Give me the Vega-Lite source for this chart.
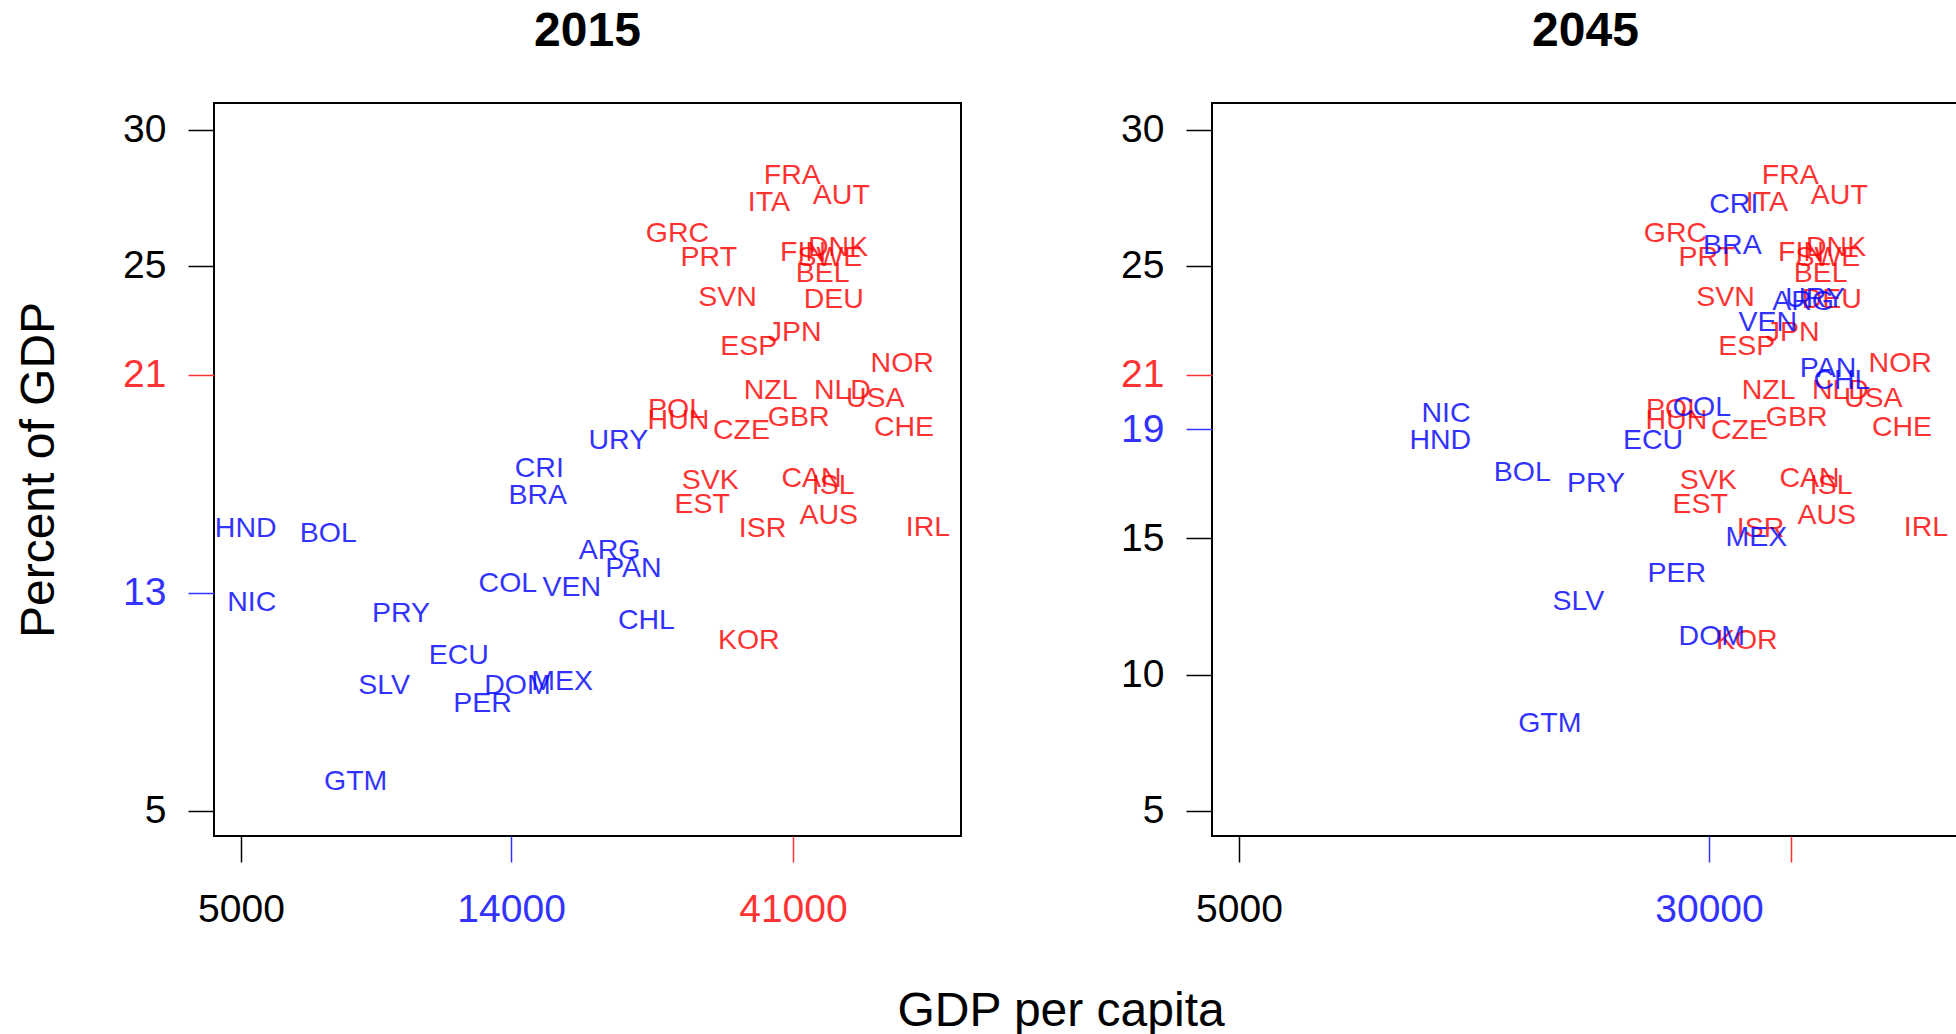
{
  "$schema": "https://vega.github.io/schema/vega-lite/v6.json",
  "background": "white",
  "padding": {"left": 14, "top": 7, "right": 0, "bottom": 0},
  "config": {
    "font": "Liberation Sans",
    "view": {"stroke": "black", "strokeWidth": 2},
    "axis": {"grid": false, "domain": false, "labelFont": "Liberation Sans", "labelFontSize": 39, "tickSize": 26, "tickWidth": 1.5, "labelOverlap": false, "labelFlush": false, "titleFont": "Liberation Sans", "titleFontSize": 48, "titleFontWeight": "normal", "titleColor": "black"},
    "axisX": {"labelPadding": 28},
    "axisY": {"labelPadding": 22},
    "title": {"font": "Liberation Sans", "fontSize": 48, "fontWeight": "bold", "color": "black"}
  },
  "datasets": {
    "d": [
      {"c": "FRA", "g": "OECD", "year": 2015, "gdp": 40900, "pct": 28.34},
      {"c": "ITA", "g": "OECD", "year": 2015, "gdp": 37400, "pct": 27.35},
      {"c": "AUT", "g": "OECD", "year": 2015, "gdp": 49300, "pct": 27.62},
      {"c": "GRC", "g": "OECD", "year": 2015, "gdp": 26400, "pct": 26.22},
      {"c": "PRT", "g": "OECD", "year": 2015, "gdp": 29750, "pct": 25.33},
      {"c": "FIN", "g": "OECD", "year": 2015, "gdp": 42600, "pct": 25.52},
      {"c": "DNK", "g": "OECD", "year": 2015, "gdp": 48700, "pct": 25.70},
      {"c": "SWE", "g": "OECD", "year": 2015, "gdp": 47200, "pct": 25.33},
      {"c": "BEL", "g": "OECD", "year": 2015, "gdp": 45900, "pct": 24.73},
      {"c": "SVN", "g": "OECD", "year": 2015, "gdp": 31950, "pct": 23.85},
      {"c": "DEU", "g": "OECD", "year": 2015, "gdp": 47900, "pct": 23.77},
      {"c": "JPN", "g": "OECD", "year": 2015, "gdp": 41250, "pct": 22.58},
      {"c": "ESP", "g": "OECD", "year": 2015, "gdp": 34650, "pct": 22.08},
      {"c": "NOR", "g": "OECD", "year": 2015, "gdp": 62200, "pct": 21.45},
      {"c": "NZL", "g": "OECD", "year": 2015, "gdp": 37650, "pct": 20.46},
      {"c": "NLD", "g": "OECD", "year": 2015, "gdp": 49500, "pct": 20.46},
      {"c": "USA", "g": "OECD", "year": 2015, "gdp": 56100, "pct": 20.16},
      {"c": "POL", "g": "OECD", "year": 2015, "gdp": 26300, "pct": 19.76},
      {"c": "HUN", "g": "OECD", "year": 2015, "gdp": 26500, "pct": 19.34},
      {"c": "GBR", "g": "OECD", "year": 2015, "gdp": 41900, "pct": 19.46},
      {"c": "CZE", "g": "OECD", "year": 2015, "gdp": 33700, "pct": 18.97},
      {"c": "CHE", "g": "OECD", "year": 2015, "gdp": 62600, "pct": 19.08},
      {"c": "SVK", "g": "OECD", "year": 2015, "gdp": 29900, "pct": 17.14},
      {"c": "CAN", "g": "OECD", "year": 2015, "gdp": 44000, "pct": 17.23},
      {"c": "ISL", "g": "OECD", "year": 2015, "gdp": 47800, "pct": 16.97},
      {"c": "EST", "g": "OECD", "year": 2015, "gdp": 29000, "pct": 16.26},
      {"c": "AUS", "g": "OECD", "year": 2015, "gdp": 47000, "pct": 15.86},
      {"c": "ISR", "g": "OECD", "year": 2015, "gdp": 36500, "pct": 15.40},
      {"c": "IRL", "g": "OECD", "year": 2015, "gdp": 68600, "pct": 15.41},
      {"c": "KOR", "g": "OECD", "year": 2015, "gdp": 34650, "pct": 11.27},
      {"c": "URY", "g": "LatAm", "year": 2015, "gdp": 21070, "pct": 18.63},
      {"c": "CRI", "g": "LatAm", "year": 2015, "gdp": 15590, "pct": 17.60},
      {"c": "BRA", "g": "LatAm", "year": 2015, "gdp": 15500, "pct": 16.60},
      {"c": "HND", "g": "LatAm", "year": 2015, "gdp": 5090, "pct": 15.39},
      {"c": "BOL", "g": "LatAm", "year": 2015, "gdp": 6975, "pct": 15.21},
      {"c": "ARG", "g": "LatAm", "year": 2015, "gdp": 20375, "pct": 14.56},
      {"c": "PAN", "g": "LatAm", "year": 2015, "gdp": 22320, "pct": 13.93},
      {"c": "COL", "g": "LatAm", "year": 2015, "gdp": 13830, "pct": 13.38},
      {"c": "VEN", "g": "LatAm", "year": 2015, "gdp": 17640, "pct": 13.20},
      {"c": "NIC", "g": "LatAm", "year": 2015, "gdp": 5210, "pct": 12.65},
      {"c": "PRY", "g": "LatAm", "year": 2015, "gdp": 9200, "pct": 12.28},
      {"c": "ECU", "g": "LatAm", "year": 2015, "gdp": 11470, "pct": 10.73},
      {"c": "SLV", "g": "LatAm", "year": 2015, "gdp": 8630, "pct": 9.61},
      {"c": "DOM", "g": "LatAm", "year": 2015, "gdp": 14340, "pct": 9.61},
      {"c": "MEX", "g": "LatAm", "year": 2015, "gdp": 17010, "pct": 9.78},
      {"c": "PER", "g": "LatAm", "year": 2015, "gdp": 12560, "pct": 8.96},
      {"c": "GTM", "g": "LatAm", "year": 2015, "gdp": 7740, "pct": 6.11},
      {"c": "CHL", "g": "LatAm", "year": 2015, "gdp": 23450, "pct": 12.02},
      {"c": "FRA", "g": "OECD", "year": 2045, "gdp": 40900, "pct": 28.34},
      {"c": "ITA", "g": "OECD", "year": 2045, "gdp": 37400, "pct": 27.35},
      {"c": "AUT", "g": "OECD", "year": 2045, "gdp": 49300, "pct": 27.62},
      {"c": "GRC", "g": "OECD", "year": 2045, "gdp": 26400, "pct": 26.22},
      {"c": "PRT", "g": "OECD", "year": 2045, "gdp": 29750, "pct": 25.33},
      {"c": "FIN", "g": "OECD", "year": 2045, "gdp": 42600, "pct": 25.52},
      {"c": "DNK", "g": "OECD", "year": 2045, "gdp": 48700, "pct": 25.70},
      {"c": "SWE", "g": "OECD", "year": 2045, "gdp": 47200, "pct": 25.33},
      {"c": "BEL", "g": "OECD", "year": 2045, "gdp": 45900, "pct": 24.73},
      {"c": "SVN", "g": "OECD", "year": 2045, "gdp": 31950, "pct": 23.85},
      {"c": "DEU", "g": "OECD", "year": 2045, "gdp": 47900, "pct": 23.77},
      {"c": "JPN", "g": "OECD", "year": 2045, "gdp": 41250, "pct": 22.58},
      {"c": "ESP", "g": "OECD", "year": 2045, "gdp": 34650, "pct": 22.08},
      {"c": "NOR", "g": "OECD", "year": 2045, "gdp": 62200, "pct": 21.45},
      {"c": "NZL", "g": "OECD", "year": 2045, "gdp": 37650, "pct": 20.46},
      {"c": "NLD", "g": "OECD", "year": 2045, "gdp": 49500, "pct": 20.46},
      {"c": "USA", "g": "OECD", "year": 2045, "gdp": 56100, "pct": 20.16},
      {"c": "POL", "g": "OECD", "year": 2045, "gdp": 26300, "pct": 19.76},
      {"c": "HUN", "g": "OECD", "year": 2045, "gdp": 26500, "pct": 19.34},
      {"c": "GBR", "g": "OECD", "year": 2045, "gdp": 41900, "pct": 19.46},
      {"c": "CZE", "g": "OECD", "year": 2045, "gdp": 33700, "pct": 18.97},
      {"c": "CHE", "g": "OECD", "year": 2045, "gdp": 62600, "pct": 19.08},
      {"c": "SVK", "g": "OECD", "year": 2045, "gdp": 29900, "pct": 17.14},
      {"c": "CAN", "g": "OECD", "year": 2045, "gdp": 44000, "pct": 17.23},
      {"c": "ISL", "g": "OECD", "year": 2045, "gdp": 47800, "pct": 16.97},
      {"c": "EST", "g": "OECD", "year": 2045, "gdp": 29000, "pct": 16.26},
      {"c": "AUS", "g": "OECD", "year": 2045, "gdp": 47000, "pct": 15.86},
      {"c": "ISR", "g": "OECD", "year": 2045, "gdp": 36500, "pct": 15.40},
      {"c": "IRL", "g": "OECD", "year": 2045, "gdp": 68600, "pct": 15.41},
      {"c": "KOR", "g": "OECD", "year": 2045, "gdp": 34650, "pct": 11.27},
      {"c": "CRI", "g": "LatAm", "year": 2045, "gdp": 32970, "pct": 27.27},
      {"c": "BRA", "g": "LatAm", "year": 2045, "gdp": 32790, "pct": 25.78},
      {"c": "ARG", "g": "LatAm", "year": 2045, "gdp": 42930, "pct": 23.72},
      {"c": "URY", "g": "LatAm", "year": 2045, "gdp": 44950, "pct": 23.83},
      {"c": "VEN", "g": "LatAm", "year": 2045, "gdp": 37530, "pct": 22.96},
      {"c": "PAN", "g": "LatAm", "year": 2045, "gdp": 47230, "pct": 21.27},
      {"c": "CHL", "g": "LatAm", "year": 2045, "gdp": 49790, "pct": 20.81},
      {"c": "COL", "g": "LatAm", "year": 2045, "gdp": 29180, "pct": 19.83},
      {"c": "ECU", "g": "LatAm", "year": 2045, "gdp": 24240, "pct": 18.62},
      {"c": "PRY", "g": "LatAm", "year": 2045, "gdp": 19500, "pct": 17.05},
      {"c": "MEX", "g": "LatAm", "year": 2045, "gdp": 35940, "pct": 15.05},
      {"c": "NIC", "g": "LatAm", "year": 2045, "gdp": 11010, "pct": 19.62},
      {"c": "HND", "g": "LatAm", "year": 2045, "gdp": 10770, "pct": 18.61},
      {"c": "BOL", "g": "LatAm", "year": 2045, "gdp": 14720, "pct": 17.42},
      {"c": "PER", "g": "LatAm", "year": 2045, "gdp": 26530, "pct": 13.75},
      {"c": "SLV", "g": "LatAm", "year": 2045, "gdp": 18230, "pct": 12.72},
      {"c": "DOM", "g": "LatAm", "year": 2045, "gdp": 30320, "pct": 11.42},
      {"c": "GTM", "g": "LatAm", "year": 2045, "gdp": 16350, "pct": 8.23}
    ]
  },
  "title": {"text": "GDP per capita", "orient": "bottom", "anchor": "middle", "fontSize": 48, "fontWeight": "normal", "baseline": "top", "offset": 58, "dx": 74},
  "spacing": 157,
  "hconcat": [
    {
      "data": {"name": "d"},
      "transform": [{"filter": "datum.year == 2015"}],
      "width": 747,
      "height": 733,
      "title": {"text": "2015", "baseline": "alphabetic", "offset": 9},
      "mark": {"type": "text", "fontSize": 28.5, "opacity": 0.8, "font": "Liberation Sans"},
      "encoding": {
        "x": {"field": "gdp", "type": "quantitative", "scale": {"type": "log", "domain": [4511, 77800], "nice": false, "zero": false},
          "axis": {"values": [5000, 14000, 41000], "format": "d", "title": null,
            "labelColor": {"condition": [{"test": "datum.value == 14000", "value": "#3333ff"}, {"test": "datum.value == 41000", "value": "#ff3333"}], "value": "black"},
            "tickColor": {"condition": [{"test": "datum.value == 14000", "value": "#3333ff"}, {"test": "datum.value == 41000", "value": "#ff3333"}], "value": "black"}}},
        "y": {"field": "pct", "type": "quantitative", "scale": {"domain": [4.08, 30.98], "nice": false, "zero": false},
          "axis": {"values": [5, 13, 21, 25, 30], "title": "Percent of GDP", "titlePadding": 59.5,
            "labelColor": {"condition": [{"test": "datum.value == 13", "value": "#3333ff"}, {"test": "datum.value == 21", "value": "#ff3333"}], "value": "black"},
            "tickColor": {"condition": [{"test": "datum.value == 13", "value": "#3333ff"}, {"test": "datum.value == 21", "value": "#ff3333"}], "value": "black"}}},
        "text": {"field": "c"},
        "color": {"field": "g", "type": "nominal", "scale": {"domain": ["OECD", "LatAm"], "range": ["#ff0000", "#0000ff"]}, "legend": null}
      }
    },
    {
      "data": {"name": "d"},
      "transform": [{"filter": "datum.year == 2045"}],
      "width": 747,
      "height": 733,
      "title": {"text": "2045", "baseline": "alphabetic", "offset": 9},
      "mark": {"type": "text", "fontSize": 28.5, "opacity": 0.8, "font": "Liberation Sans"},
      "encoding": {
        "x": {"field": "gdp", "type": "quantitative", "scale": {"type": "log", "domain": [4511, 77800], "nice": false, "zero": false},
          "axis": {"values": [5000, 30000, 41000], "format": "d", "title": null,
            "labelExpr": "datum.value == 41000 ? '' : datum.label",
            "labelColor": {"condition": [{"test": "datum.value == 30000", "value": "#3333ff"}, {"test": "datum.value == 41000", "value": "#ff3333"}], "value": "black"},
            "tickColor": {"condition": [{"test": "datum.value == 30000", "value": "#3333ff"}, {"test": "datum.value == 41000", "value": "#ff3333"}], "value": "black"}}},
        "y": {"field": "pct", "type": "quantitative", "scale": {"domain": [4.08, 30.98], "nice": false, "zero": false},
          "axis": {"values": [5, 10, 15, 19, 21, 25, 30], "title": null,
            "labelColor": {"condition": [{"test": "datum.value == 19", "value": "#3333ff"}, {"test": "datum.value == 21", "value": "#ff3333"}], "value": "black"},
            "tickColor": {"condition": [{"test": "datum.value == 19", "value": "#3333ff"}, {"test": "datum.value == 21", "value": "#ff3333"}], "value": "black"}}},
        "text": {"field": "c"},
        "color": {"field": "g", "type": "nominal", "scale": {"domain": ["OECD", "LatAm"], "range": ["#ff0000", "#0000ff"]}, "legend": null}
      }
    }
  ]
}
